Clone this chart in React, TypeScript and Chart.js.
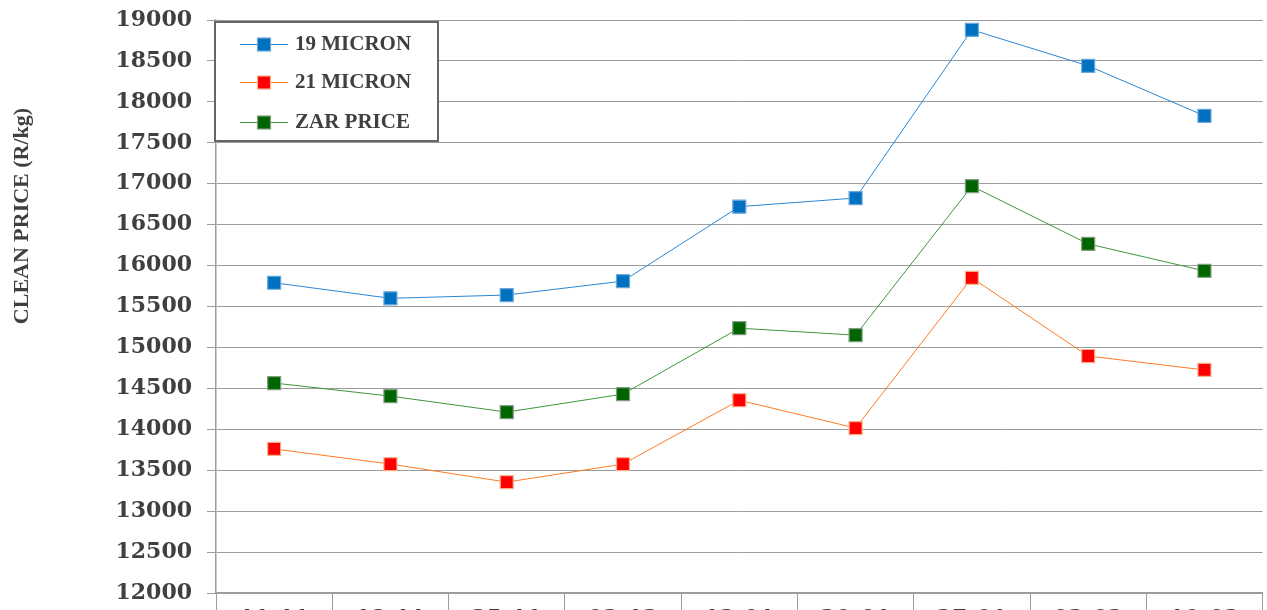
import React, { useEffect, useRef } from "react";
import { Chart, registerables } from "chart.js";

Chart.register(...registerables);

const categories = ["11-11", "18-11", "25-11", "02-12", "13-01", "20-01", "27-01", "03-02", "10-02"];
const micron19 = [15790, 15600, 15640, 15810, 16720, 16825, 18880, 18440, 17830];
const micron21 = [13760, 13575, 13355, 13575, 14355, 14015, 15850, 14895, 14725];
const zarPrice = [14565, 14405, 14210, 14430, 15235, 15150, 16970, 16265, 15935];
const seriesNames = ["19 MICRON", "21 MICRON", "ZAR PRICE"];
const yAxisTitle = "CLEAN PRICE (R/kg)";

const TEXT = "#404040";
const GRID = "#9c9c9c";
const H = 640;
const W = 1273;

const styles = [
  { line: "#2a86d6", fill: "#0070C0", border: "#6aa8dc" },
  { line: "#ff7b24", fill: "#FF0000", border: "#f6b08a" },
  { line: "#3c963c", fill: "#006400", border: "#7f9f7f" },
];

const overlayPlugin = {
  id: "overlay",
  afterDraw(chart: any) {
    const ctx = chart.ctx as CanvasRenderingContext2D;
    ctx.save();
    ctx.translate(22, 216);
    ctx.rotate(-Math.PI / 2);
    ctx.fillStyle = TEXT;
    ctx.font = "bold 22px 'Liberation Serif'";
    ctx.textAlign = "center";
    ctx.textBaseline = "middle";
    ctx.fillText(yAxisTitle, 0, 0);
    ctx.restore();

    ctx.save();
    const bx = 215, by = 22, bw = 223, bh = 119;
    ctx.fillStyle = "#ffffff";
    ctx.fillRect(bx, by, bw, bh);
    ctx.strokeStyle = "#666666";
    ctx.lineWidth = 2;
    ctx.strokeRect(bx, by, bw, bh);
    const ys = [44, 82, 122];
    seriesNames.forEach((name, i) => {
      const s = styles[i];
      const y = ys[i];
      ctx.strokeStyle = s.line;
      ctx.lineWidth = 1;
      ctx.beginPath();
      ctx.moveTo(240, y + 0.5);
      ctx.lineTo(288, y + 0.5);
      ctx.stroke();
      ctx.fillStyle = s.fill;
      ctx.fillRect(257.5, y - 6, 13, 13);
      ctx.strokeStyle = s.border;
      ctx.lineWidth = 1.2;
      ctx.strokeRect(257.5, y - 6, 13, 13);
      ctx.fillStyle = TEXT;
      ctx.font = "bold 21px 'Liberation Serif'";
      ctx.textAlign = "left";
      ctx.textBaseline = "middle";
      ctx.fillText(name, 295, y + 1);
    });
    ctx.restore();
  },
};

export default function App() {
  const ref = useRef<HTMLCanvasElement | null>(null);
  useEffect(() => {
    if (!ref.current) return;
    const data = [micron19, micron21, zarPrice];
    const chart = new Chart(ref.current, {
      type: "line",
      data: {
        labels: categories,
        datasets: seriesNames.map((name, i) => ({
          label: name,
          data: data[i],
          borderColor: styles[i].line,
          borderWidth: 1,
          backgroundColor: styles[i].fill,
          pointBackgroundColor: styles[i].fill,
          pointBorderColor: styles[i].border,
          pointBorderWidth: 1.2,
          pointStyle: "rect",
          pointRadius: 9.2,
          tension: 0,
          fill: false,
        })),
      },
      options: {
        responsive: false,
        animation: false,
        devicePixelRatio: 1,
        layout: { padding: { left: 0, right: 5, top: 20, bottom: 0 } },
        plugins: {
          legend: { display: false },
          tooltip: { enabled: false },
        },
        scales: {
          x: {
            offset: true,
            afterFit(scale: any) {
              scale.height = H - 593;
              scale.paddingLeft = 0;
              scale.paddingRight = 0;
            },
            grid: {
              display: true,
              offset: true,
              drawOnChartArea: false,
              drawTicks: true,
              tickLength: 20,
              color: GRID,
              lineWidth: 1,
            },
            border: { display: true, color: GRID, width: 1.5 },
            ticks: {
              color: TEXT,
              font: { family: "'DejaVu Serif'", weight: "bold", size: 22 },
              padding: -7,
              maxRotation: 0,
              autoSkip: false,
            },
          },
          y: {
            min: 12000,
            max: 19000,
            afterFit(scale: any) {
              scale.width = 216;
              scale.paddingTop = 0;
              scale.paddingBottom = 0;
            },
            ticks: {
              stepSize: 500,
              color: TEXT,
              font: { family: "'DejaVu Serif'", weight: "bold", size: 22 },
              padding: 15,
              callback: (v: any) => String(v),
            },
            grid: {
              color: GRID,
              lineWidth: 1,
              tickLength: 9,
            },
            border: { display: true, color: GRID, width: 1.5 },
          },
        },
      },
      plugins: [overlayPlugin],
    });
    return () => chart.destroy();
  }, []);
  return (
    <div style={{ position: "absolute", left: 0, top: 0, width: 1267, height: 610, overflow: "hidden", background: "#fff" }}>
      <canvas ref={ref} width={W} height={H} style={{ width: W, height: H, display: "block" }} />
    </div>
  );
}
